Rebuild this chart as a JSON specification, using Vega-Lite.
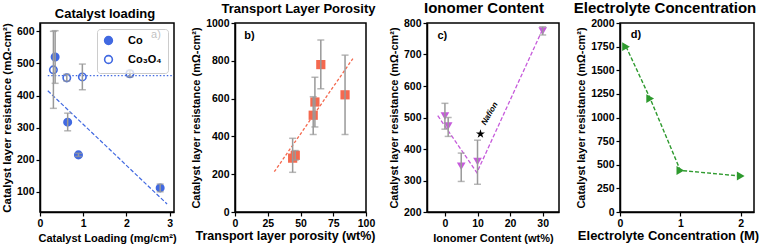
{
  "$schema": "https://vega.github.io/schema/vega-lite/v6.json",
  "padding": {"left": 0, "top": 0, "right": 2, "bottom": 1},
  "background": "white",
  "bounds": "flush",
  "spacing": 61,
  "resolve": {"legend": {"fill": "independent"}},
  "datasets": {
    "a_pts": [
      {"x": 0.35, "y": 520, "lo": 438, "hi": 602, "s": "Co"},
      {"x": 0.64, "y": 317, "lo": 290, "hi": 345, "s": "Co"},
      {"x": 0.89, "y": 215, "lo": 210, "hi": 220, "s": "Co"},
      {"x": 2.78, "y": 112, "lo": 100, "hi": 124, "s": "Co"},
      {"x": 0.31, "y": 480, "lo": 360, "hi": 600, "s": "Co₃O₄"},
      {"x": 0.62, "y": 455, "lo": 445, "hi": 466, "s": "Co₃O₄"},
      {"x": 0.98, "y": 458, "lo": 418, "hi": 498, "s": "Co₃O₄"},
      {"x": 2.08, "y": 468, "lo": 458, "hi": 478, "s": "Co₃O₄"}
    ],
    "a_co": [{"x": 0.18, "y": 415}, {"x": 2.94, "y": 62}],
    "a_co3": [{"x": 0.18, "y": 462}, {"x": 3.1, "y": 462}],
    "a_lab": [{"x": 2.57, "y": 590, "t": "a)"}],
    "b_pts": [
      {"x": 44, "y": 285, "lo": 210, "hi": 390},
      {"x": 46, "y": 300, "lo": 275, "hi": 325},
      {"x": 59.7, "y": 512, "lo": 410, "hi": 610},
      {"x": 61, "y": 582, "lo": 450, "hi": 713},
      {"x": 65.5, "y": 780, "lo": 652, "hi": 910},
      {"x": 84, "y": 620, "lo": 410, "hi": 830}
    ],
    "b_line": [{"x": 30, "y": 213}, {"x": 90, "y": 812}],
    "b_lab": [{"x": 7, "y": 930, "t": "b)"}],
    "c_pts": [
      {"x": 0, "y": 505, "lo": 463, "hi": 545},
      {"x": 1, "y": 473, "lo": 440, "hi": 500},
      {"x": 5, "y": 345, "lo": 297, "hi": 387},
      {"x": 10, "y": 360, "lo": 288, "hi": 428},
      {"x": 30, "y": 775, "lo": 762, "hi": 788}
    ],
    "c_line": [{"x": -2.2, "y": 506}, {"x": 9.8, "y": 325}, {"x": 29.8, "y": 776}],
    "c_star": [{"x": 10.9, "y": 448}],
    "c_naf": [{"x": 13.8, "y": 512, "t": "Nafion"}],
    "c_lab": [{"x": -2.3, "y": 758, "t": "c)"}],
    "d_pts": [
      {"x": 0.1, "y": 1750},
      {"x": 0.5, "y": 1200},
      {"x": 1, "y": 440},
      {"x": 2, "y": 380}
    ],
    "d_lab": [{"x": 0.18, "y": 1870, "t": "d)"}]
  },
  "hconcat": [
    {
      "title": {"text": "Catalyst loading", "fontSize": 13, "dx": -2},
      "width": 134,
      "height": 189,
      "layer": [
        {
          "data": {"name": "a_co3"},
          "mark": {"type": "line", "color": "#4169E1", "strokeWidth": 1.3, "strokeDash": [1.5, 2]},
          "encoding": {
            "x": {"field": "x", "type": "quantitative", "scale": {"domain": [0, 3.1], "nice": false, "zero": false}, "axis": {"values": [0, 1, 2, 3], "format": "d", "tickCount": 30, "labelOverlap": false, "title": "Catalyst Loading (mg/cm²)", "titleFontSize": 11}},
            "y": {"field": "y", "type": "quantitative", "scale": {"domain": [37, 626], "nice": false, "zero": false}, "axis": {"values": [100, 200, 300, 400, 500, 600], "format": "d", "tickCount": 30, "labelOverlap": false, "title": "Catalyst layer resistance (mΩ-cm²)", "titleFontSize": 11.5}}
          }
        },
        {
          "data": {"name": "a_co"},
          "mark": {"type": "line", "color": "#4169E1", "strokeWidth": 1.2, "strokeDash": [4, 2]},
          "encoding": {
            "x": {"field": "x", "type": "quantitative", "title": "Catalyst Loading (mg/cm²)"},
            "y": {"field": "y", "type": "quantitative", "title": "Catalyst layer resistance (mΩ-cm²)"}
          }
        },
        {
          "data": {"name": "a_lab"},
          "mark": {"type": "text", "align": "left", "baseline": "middle", "fontSize": 11, "fontWeight": "normal", "color": "black"},
          "encoding": {
            "x": {"field": "x", "type": "quantitative", "title": "Catalyst Loading (mg/cm²)"},
            "y": {"field": "y", "type": "quantitative", "title": "Catalyst layer resistance (mΩ-cm²)"},
            "text": {"field": "t"}
          }
        },
        {
          "data": {"name": "a_pts"},
          "mark": {"type": "point", "shape": "circle", "size": 55, "stroke": "#4169E1", "strokeWidth": 1.6, "opacity": 1},
          "encoding": {
            "x": {"field": "x", "type": "quantitative", "title": "Catalyst Loading (mg/cm²)"},
            "y": {"field": "y", "type": "quantitative", "title": "Catalyst layer resistance (mΩ-cm²)"},
            "fill": {"field": "s", "type": "nominal", "scale": {"domain": ["Co", "Co₃O₄"], "range": ["#4169E1", "transparent"]},
              "legend": {"title": null, "orient": "top-right", "offset": 6, "symbolStrokeColor": "#4169E1", "symbolStrokeWidth": 1.6, "symbolSize": 60, "labelFontSize": 11, "labelFontWeight": "bold", "labelFont": "Liberation Sans", "labelOffset": 14, "padding": 6, "rowPadding": 4, "strokeColor": "#cccccc", "fillColor": "rgba(255,255,255,0.75)", "cornerRadius": 3, "symbolType": "circle"}}
          }
        },
        {
          "data": {"name": "a_pts"},
          "mark": {"type": "errorbar", "ticks": {"size": 7}, "color": "#999999", "thickness": 1.5},
          "encoding": {
            "x": {"field": "x", "type": "quantitative", "title": "Catalyst Loading (mg/cm²)"},
            "y": {"field": "lo", "type": "quantitative", "title": "Catalyst layer resistance (mΩ-cm²)"},
            "y2": {"field": "hi"}
          }
        }
      ]
    },
    {
      "title": {"text": "Transport Layer Porosity", "fontSize": 13, "dx": -2},
      "width": 131,
      "height": 189,
      "layer": [
        {
          "data": {"name": "b_line"},
          "mark": {"type": "line", "color": "#F4694F", "strokeWidth": 1.3, "strokeDash": [3, 2]},
          "encoding": {
            "x": {"field": "x", "type": "quantitative", "scale": {"domain": [0, 100], "nice": false, "zero": false}, "axis": {"values": [0, 25, 50, 75, 100], "format": "d", "tickCount": 30, "labelOverlap": false, "title": "Transport layer porosity (wt%)", "titleFontSize": 12.5, "titleX": 50, "titlePadding": 1}},
            "y": {"field": "y", "type": "quantitative", "scale": {"domain": [0, 1000], "nice": false, "zero": false}, "axis": {"values": [0, 200, 400, 600, 800, 1000], "format": "d", "tickCount": 30, "labelOverlap": false, "title": "Catalyst layer resistance (mΩ-cm²)", "titleFontSize": 11}}
          }
        },
        {
          "data": {"name": "b_lab"},
          "mark": {"type": "text", "align": "left", "baseline": "middle", "fontSize": 11, "fontWeight": "bold", "color": "black"},
          "encoding": {
            "x": {"field": "x", "type": "quantitative", "title": "Transport layer porosity (wt%)"},
            "y": {"field": "y", "type": "quantitative", "title": "Catalyst layer resistance (mΩ-cm²)"},
            "text": {"field": "t"}
          }
        },
        {
          "data": {"name": "b_pts"},
          "mark": {"type": "point", "shape": "square", "size": 85, "filled": true, "color": "#F4694F", "opacity": 1},
          "encoding": {
            "x": {"field": "x", "type": "quantitative", "title": "Transport layer porosity (wt%)"},
            "y": {"field": "y", "type": "quantitative", "title": "Catalyst layer resistance (mΩ-cm²)"}
          }
        },
        {
          "data": {"name": "b_pts"},
          "mark": {"type": "errorbar", "ticks": {"size": 7}, "color": "#999999", "thickness": 1.5},
          "encoding": {
            "x": {"field": "x", "type": "quantitative", "title": "Transport layer porosity (wt%)"},
            "y": {"field": "lo", "type": "quantitative", "title": "Catalyst layer resistance (mΩ-cm²)"},
            "y2": {"field": "hi"}
          }
        }
      ]
    },
    {
      "title": {"text": "Ionomer Content", "fontSize": 15, "dx": -9},
      "width": 132,
      "height": 189,
      "layer": [
        {
          "data": {"name": "c_line"},
          "mark": {"type": "line", "color": "#C65BDB", "strokeWidth": 1.3, "strokeDash": [4, 2]},
          "encoding": {
            "x": {"field": "x", "type": "quantitative", "scale": {"domain": [-5.5, 35], "nice": false, "zero": false}, "axis": {"values": [0, 10, 20, 30], "format": "d", "tickCount": 30, "labelOverlap": false, "title": "Ionomer Content (wt%)", "titleFontSize": 11}},
            "y": {"field": "y", "type": "quantitative", "scale": {"domain": [200, 800], "nice": false, "zero": false}, "axis": {"values": [200, 300, 400, 500, 600, 700, 800], "format": "d", "tickCount": 30, "labelOverlap": false, "title": "Catalyst layer resistance (mΩ-cm²)", "titleFontSize": 11}}
          }
        },
        {
          "data": {"name": "c_lab"},
          "mark": {"type": "text", "align": "left", "baseline": "middle", "fontSize": 11, "fontWeight": "bold", "color": "black"},
          "encoding": {
            "x": {"field": "x", "type": "quantitative", "title": "Ionomer Content (wt%)"},
            "y": {"field": "y", "type": "quantitative", "title": "Catalyst layer resistance (mΩ-cm²)"},
            "text": {"field": "t"}
          }
        },
        {
          "data": {"name": "c_naf"},
          "mark": {"type": "text", "align": "center", "baseline": "middle", "fontSize": 8, "fontWeight": "bold", "fontStyle": "italic", "angle": -60, "color": "black"},
          "encoding": {
            "x": {"field": "x", "type": "quantitative", "title": "Ionomer Content (wt%)"},
            "y": {"field": "y", "type": "quantitative", "title": "Catalyst layer resistance (mΩ-cm²)"},
            "text": {"field": "t"}
          }
        },
        {
          "data": {"name": "c_star"},
          "mark": {"type": "point", "shape": "M0,-1L0.2245,-0.309L0.951,-0.309L0.363,0.118L0.588,0.809L0,0.382L-0.588,0.809L-0.363,0.118L-0.951,-0.309L-0.2245,-0.309Z", "size": 90, "filled": true, "color": "black", "opacity": 1},
          "encoding": {
            "x": {"field": "x", "type": "quantitative", "title": "Ionomer Content (wt%)"},
            "y": {"field": "y", "type": "quantitative", "title": "Catalyst layer resistance (mΩ-cm²)"}
          }
        },
        {
          "data": {"name": "c_pts"},
          "mark": {"type": "point", "shape": "triangle-down", "size": 75, "filled": true, "color": "#C65BDB", "opacity": 1},
          "encoding": {
            "x": {"field": "x", "type": "quantitative", "title": "Ionomer Content (wt%)"},
            "y": {"field": "y", "type": "quantitative", "title": "Catalyst layer resistance (mΩ-cm²)"}
          }
        },
        {
          "data": {"name": "c_pts"},
          "mark": {"type": "errorbar", "ticks": {"size": 7}, "color": "#999999", "thickness": 1.5},
          "encoding": {
            "x": {"field": "x", "type": "quantitative", "title": "Ionomer Content (wt%)"},
            "y": {"field": "lo", "type": "quantitative", "title": "Catalyst layer resistance (mΩ-cm²)"},
            "y2": {"field": "hi"}
          }
        }
      ]
    },
    {
      "title": {"text": "Electrolyte Concentration", "fontSize": 15, "dx": -22},
      "width": 134,
      "height": 189,
      "layer": [
        {
          "data": {"name": "d_pts"},
          "mark": {"type": "line", "color": "#2E9A2E", "strokeWidth": 1.4, "strokeDash": [4, 2]},
          "encoding": {
            "x": {"field": "x", "type": "quantitative", "scale": {"domain": [0, 2.22], "nice": false, "zero": false}, "axis": {"values": [0, 1, 2], "format": "d", "tickCount": 30, "labelOverlap": false, "title": "Electrolyte Concentration (M)", "titleFontSize": 13, "titleX": 48, "titlePadding": 1}},
            "y": {"field": "y", "type": "quantitative", "scale": {"domain": [0, 2000], "nice": false, "zero": false}, "axis": {"values": [0, 250, 500, 750, 1000, 1250, 1500, 1750, 2000], "tickCount": 30, "labelOverlap": false, "format": "d", "title": "Catalyst layer resistance (mΩ-cm²)", "titleFontSize": 11}}
          }
        },
        {
          "data": {"name": "d_lab"},
          "mark": {"type": "text", "align": "left", "baseline": "middle", "fontSize": 11, "fontWeight": "bold", "color": "black"},
          "encoding": {
            "x": {"field": "x", "type": "quantitative", "title": "Electrolyte Concentration (M)"},
            "y": {"field": "y", "type": "quantitative", "title": "Catalyst layer resistance (mΩ-cm²)"},
            "text": {"field": "t"}
          }
        },
        {
          "data": {"name": "d_pts"},
          "mark": {"type": "point", "shape": "triangle-right", "size": 80, "filled": true, "color": "#2E9A2E", "opacity": 1},
          "encoding": {
            "x": {"field": "x", "type": "quantitative", "title": "Electrolyte Concentration (M)"},
            "y": {"field": "y", "type": "quantitative", "title": "Catalyst layer resistance (mΩ-cm²)"}
          }
        }
      ]
    }
  ],
  "config": {
    "font": "Liberation Sans",
    "view": {"stroke": "black", "strokeWidth": 1.5},
    "title": {"font": "Liberation Sans", "fontSize": 13, "fontWeight": "bold", "color": "black", "offset": 2},
    "axis": {
      "grid": false,
      "labelOverlap": false,
      "labelFont": "Liberation Sans",
      "labelFontSize": 10.5,
      "labelFontWeight": "bold",
      "labelColor": "black",
      "titleFont": "Liberation Sans",
      "titleFontSize": 11,
      "titleFontWeight": "bold",
      "titleColor": "black",
      "tickColor": "black",
      "tickSize": 4,
      "tickWidth": 1.2,
      "domainColor": "black",
      "domainWidth": 1.5,
      "labelPadding": 2,
      "titlePadding": 4,
      "labelFlush": false
    }
  }
}
